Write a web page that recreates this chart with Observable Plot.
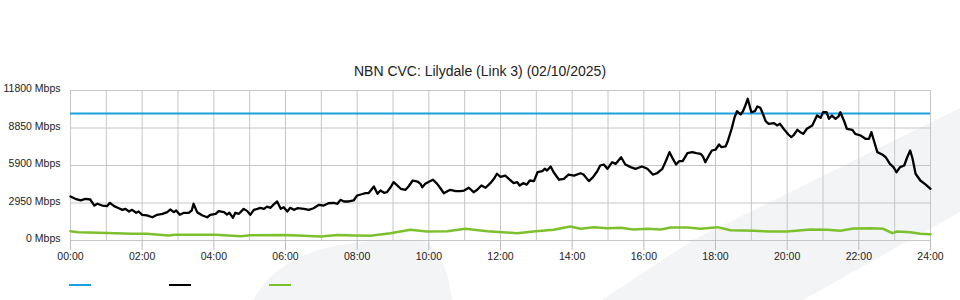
<!DOCTYPE html>
<html>
<head>
<meta charset="utf-8">
<script src="https://cdn.jsdelivr.net/npm/d3@7"></script>
<script src="https://cdn.jsdelivr.net/npm/@observablehq/plot@0.6"></script>
<style>
  html, body { margin: 0; padding: 0; background: #fff; }
  #wrap { position: relative; width: 960px; height: 300px; overflow: hidden; font-family: "Liberation Sans", Arial, sans-serif; }
  #watermark { position: absolute; left: 0; top: 0; z-index: 0; }
  #title { position: relative; z-index: 1; padding-top: 62px; height: 18px; line-height: 18px; font-size: 14px; color: #222; text-align: center; }
  #chart { position: relative; z-index: 1; height: 190px; }
  #legend { position: relative; z-index: 1; height: 30px; }
  .sw { position: absolute; top: 14px; width: 22px; height: 2px; }
</style>
</head>
<body>
<div id="wrap">
  <svg id="watermark" width="960" height="300">
    <path d="M253,300 C268,272 298,252 340,245 C372,240 408,237 426,242 C440,250 449,274 452,300 Z" fill="#f3f4f6"/>
    <path d="M602,300 L693,240 L960,108 L960,212 L803,300 Z" fill="#f3f4f6"/>
  </svg>
  <div id="title"></div>
  <div id="chart"></div>
  <div id="legend"></div>
</div>
<script>
const chartTitle = "NBN CVC: Lilydale (Link 3) (02/10/2025)";

// y ticks (Mbps) and x ticks (minutes since midnight, labelled HH:00)
const yTicks = [0, 2950, 5900, 8850, 11800];
const xTicks = [0, 120, 240, 360, 480, 600, 720, 840, 960, 1080, 1200, 1320, 1440];
const xTickLabels = ["00:00","02:00","04:00","06:00","08:00","10:00","12:00","14:00","16:00","18:00","20:00","22:00","24:00"];
const gridHours = [0,60,120,180,240,300,360,420,480,540,600,660,720,780,840,900,960,1020,1080,1140,1200,1260,1320,1380,1440];

// capacity line (blue)
const capacityMbps = 10000;

// traffic (black): minutes since midnight, Mbps
const blackMinutes = [
  0, 8, 17, 25, 33, 40, 45, 53, 61, 66,
  73, 81, 87, 92, 98, 103, 110, 114, 120, 128,
  137, 145, 154, 162, 167, 173, 177, 183, 190, 198,
  203, 206, 212, 221, 229, 234, 243, 248, 257, 262,
  266, 272, 276, 282, 290, 296, 301, 307, 313, 318,
  324, 329, 335, 340, 346, 352, 357, 363, 368, 374,
  380, 391, 399, 407, 416, 424, 432, 441, 447, 452,
  458, 466, 474, 480, 486, 494, 499, 508, 514, 519,
  525, 530, 536, 541, 547, 553, 561, 566, 573, 581,
  586, 589, 594, 601, 607, 614, 620, 625, 631, 636,
  645, 653, 659, 667, 675, 681, 688, 695, 703, 709,
  714, 720, 728, 734, 742, 748, 752, 758, 764, 769,
  776, 782, 790, 794, 798, 804, 809, 818, 826, 834,
  843, 854, 859, 868, 875, 882, 887, 893, 899, 907,
  913, 922, 929, 938, 946, 957, 966, 970, 975, 982,
  991, 996, 1003, 1008, 1014, 1019, 1025, 1033, 1041, 1048,
  1055, 1059, 1063, 1069, 1074, 1080, 1086, 1090, 1097, 1101,
  1107, 1112, 1116, 1122, 1126, 1130, 1134, 1140, 1146, 1150,
  1155, 1159, 1164, 1169, 1178, 1183, 1188, 1194, 1202, 1207,
  1211, 1217, 1222, 1227, 1233, 1242, 1250, 1256, 1260, 1266,
  1270, 1275, 1281, 1286, 1289, 1295, 1300, 1309, 1314, 1323,
  1331, 1337, 1341, 1346, 1351, 1359, 1365, 1372, 1378, 1383,
  1389, 1396, 1401, 1406, 1410, 1415, 1423, 1432, 1440
];
const blackMbps = [
  3460, 3280, 3150, 3280, 3225, 2750, 2890, 2750, 2700, 2960,
  2700, 2540, 2410, 2490, 2280, 2410, 2180, 2280, 2020, 1970,
  1830, 2020, 2100, 2230, 2440, 2230, 2360, 2020, 2180, 2180,
  2360, 2890, 2230, 1970, 1830, 2020, 2100, 2310, 2230, 2045,
  2180, 1785, 2180, 2100, 2490, 2310, 2020, 2410, 2490, 2570,
  2490, 2670, 2570, 2830, 3070, 2490, 2620, 2280, 2570, 2410,
  2540, 2490, 2410, 2540, 2810, 2750, 2930, 2960, 2890, 3200,
  3070, 3070, 3150, 3540, 3620, 3720, 3720, 4250, 3670, 3930,
  3750, 3800, 4190, 4590, 4330, 4070, 3990, 4250, 4720, 4640,
  4460, 4190, 4460, 4640, 4780, 4460, 4070, 3720, 3880, 3990,
  3880, 3880, 3930, 4150, 3800, 3990, 4330, 4150, 4510, 4850,
  5250, 5000, 5110, 4850, 4510, 4590, 4330, 4510, 4400, 4720,
  4670, 5370, 5450, 5640, 5510, 5820, 5370, 4780, 4850, 5190,
  5110, 5290, 5190, 4670, 4980, 5450, 5900, 5980, 5640, 6160,
  6030, 6550, 5980, 5770, 5640, 5820, 5640, 5450, 5190, 5290,
  5640, 6160, 6950, 6480, 5980, 6240, 6240, 6870, 6950, 6870,
  6820, 6610, 6160, 6690, 7080, 7140, 7550, 7340, 7400, 7870,
  8790, 9700, 10170, 9910, 10170, 10620, 11150, 10090, 10170, 10540,
  10440, 10010, 9390, 9180, 9230, 9050, 9180, 8790, 8340, 8130,
  8300, 8710, 8520, 8390, 8790, 9050, 9830, 9650, 10090, 10090,
  9570, 9830, 9570, 9760, 10090, 9440, 8790, 8710, 8390, 8260,
  8000, 8000, 8520, 7730, 6950, 6770, 6550, 6030, 5770, 5370,
  5770, 5900, 6550, 7080, 6430, 5250, 4720, 4400, 4070
];

// green series: minutes since midnight, Mbps
const greenMinutes = [
  0, 13, 47, 103, 128, 164, 176, 204, 243, 285,
  301, 357, 380, 419, 447, 474, 502, 536, 569, 597,
  631, 661, 698, 748, 775, 809, 837, 854, 876, 899,
  921, 943, 966, 988, 1005, 1033, 1055, 1083, 1105, 1144,
  1172, 1200, 1239, 1267, 1289, 1311, 1340, 1361, 1376, 1384,
  1406, 1423, 1440
];
const greenMbps = [
  730, 655, 600, 525, 525, 395, 445, 450, 460, 340,
  420, 430, 395, 315, 430, 400, 380, 575, 840, 710,
  730, 920, 730, 575, 710, 840, 1100, 920, 1050, 970,
  1000, 865, 920, 865, 1020, 1020, 920, 1050, 810, 760,
  710, 710, 865, 840, 760, 945, 970, 920, 575, 710,
  655, 525, 495
];

// legend swatches (no labels in the original)
const legendColors = ["#1ba0df", "#000000", "#7cc12d"];

const black = blackMinutes.map((t, i) => ({t, v: blackMbps[i]}));
const green = greenMinutes.map((t, i) => ({t, v: greenMbps[i]}));

document.getElementById("title").textContent = chartTitle;

const chart = Plot.plot({
  width: 960,
  height: 190,
  marginLeft: 70,
  marginRight: 30,
  marginTop: 10,
  marginBottom: 30,
  style: {background: "transparent", fontFamily: "'Liberation Sans', Arial, sans-serif", fontSize: "10.5px", color: "#222"},
  x: {domain: [0, 1440]},
  y: {domain: [0, 11800]},
  marks: [
    Plot.ruleX(gridHours, {x: d => d, stroke: "#c6c6c6", strokeWidth: 1}),
    Plot.ruleY(yTicks, {y: d => d, stroke: "#c6c6c6", strokeWidth: 1}),
    Plot.axisX({ticks: xTicks, tickFormat: d => xTickLabels[xTicks.indexOf(d)], tickSize: 10, tickPadding: 2, stroke: "#bdbdbd", fill: "#222", label: null}),
    Plot.axisY({ticks: yTicks, tickFormat: d => `${d} Mbps`, tickSize: 0, tickPadding: 10, fill: "#222", dy: -1.5, label: null}),
    Plot.lineY(green, {x: "t", y: "v", stroke: legendColors[2], strokeWidth: 2.5}),
    Plot.ruleY([capacityMbps], {y: d => d, stroke: legendColors[0], strokeWidth: 2}),
    Plot.lineY(black, {x: "t", y: "v", stroke: legendColors[1], strokeWidth: 2.3})
  ]
});
document.getElementById("chart").appendChild(chart);

const legend = document.getElementById("legend");
legendColors.forEach((c, i) => {
  const s = document.createElement("div");
  s.className = "sw";
  s.style.left = (69 + i * 100) + "px";
  s.style.background = c;
  legend.appendChild(s);
});
</script>
</body>
</html>
